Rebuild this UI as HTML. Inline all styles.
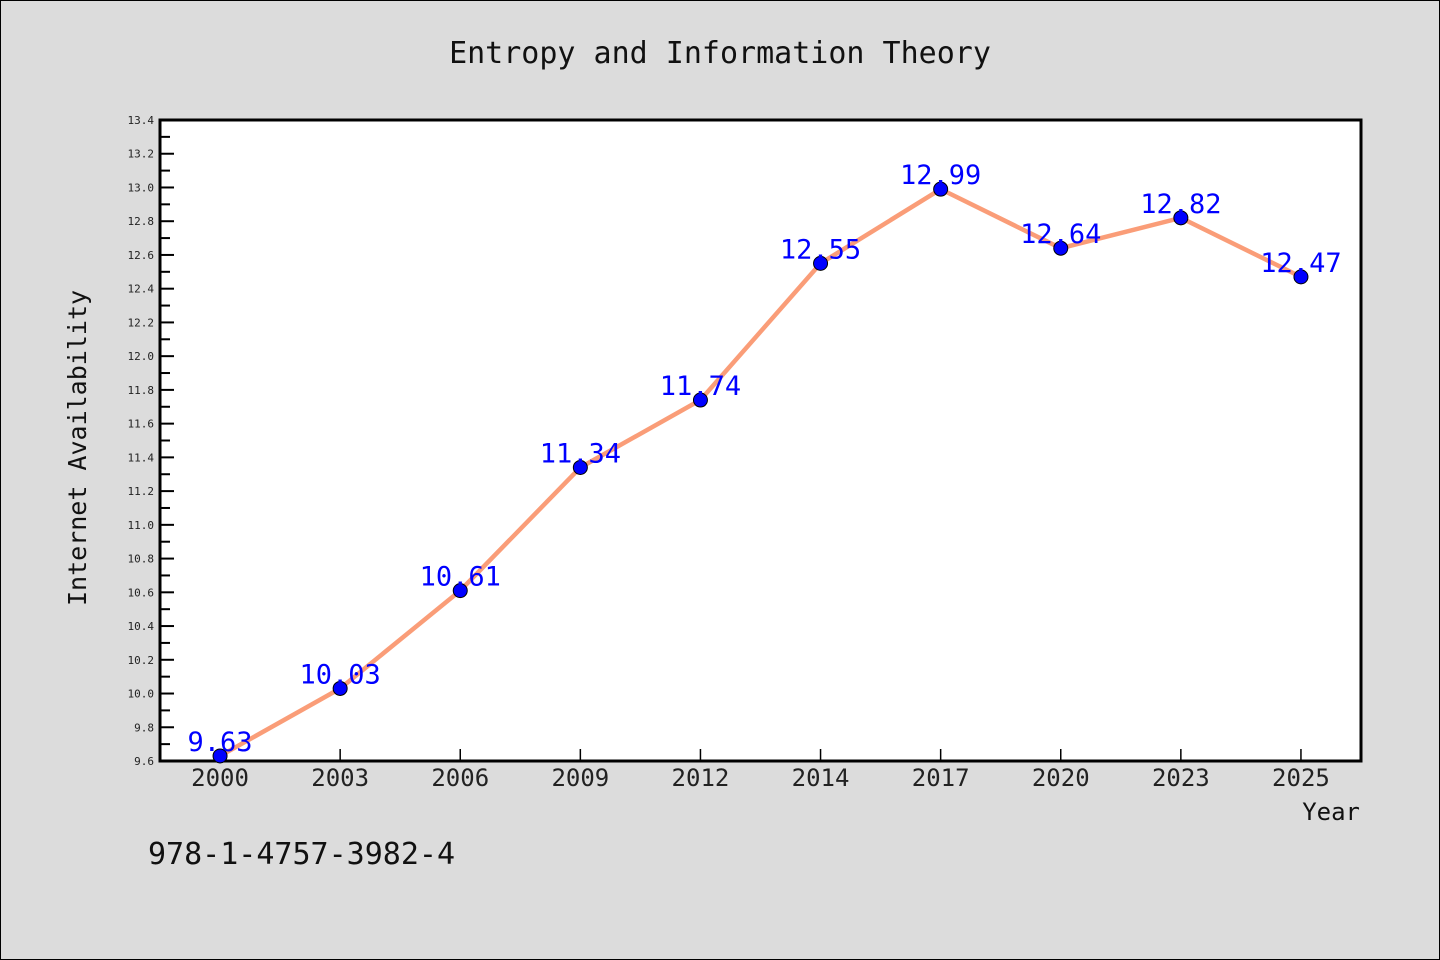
<!DOCTYPE html>
<html><head><meta charset="utf-8"><style>
body{margin:0;background:#dcdcdc;}
svg{display:block;font-family:"WenQuanYi Zen Hei","DejaVu Sans Mono",monospace;}
</style></head><body>
<svg id="c" width="1440" height="960">
<rect x="0.5" y="0.5" width="1439" height="959" fill="#dcdcdc" stroke="#000"/>
<text x="720" y="63" text-anchor="middle" font-size="30" fill="#111">Entropy and Information Theory</text>
<rect x="160" y="120" width="1201" height="641" fill="#fff" stroke="#000" stroke-width="3"/>
<g id="g"></g>
<text x="86" y="448" text-anchor="middle" font-size="25" fill="#111" transform="rotate(-90 86 448)">Internet Availability</text>
<text x="1360" y="820" text-anchor="end" font-size="24" fill="#111">Year</text>
<text x="148" y="864" font-size="30" fill="#111">978-1-4757-3982-4</text>
</svg>
<script>
const categories=["2000","2003","2006","2009","2012","2014","2017","2020","2023","2025"];
const values=[9.63,10.03,10.61,11.34,11.74,12.55,12.99,12.64,12.82,12.47];
const yTicks=[9.6,9.8,10.0,10.2,10.4,10.6,10.8,11.0,11.2,11.4,11.6,11.8,12.0,12.2,12.4,12.6,12.8,13.0,13.2,13.4];
const NS="http://www.w3.org/2000/svg";
const L=160,R=1361,T=120,B=761,ymin=9.6,ymax=13.4;
const step=(R-L)/categories.length;
const x=i=>L+step*(i+0.5);
const y=v=>B-(v-ymin)/(ymax-ymin)*(B-T);
const g=document.getElementById('g');
function mk(t,a){const e=document.createElementNS(NS,t);for(const k in a)e.setAttribute(k,a[k]);g.appendChild(e);return e;}
yTicks.forEach((v,i)=>{
 const t=mk('line',{x1:L,x2:L+14,y1:y(v),y2:y(v),stroke:'#000','stroke-width':2});
 
 
 if(i<yTicks.length-1){const m=mk('line',{x1:L,x2:L+10,y1:y(v+0.1),y2:y(v+0.1),stroke:'#000','stroke-width':2});
 
 }
 const l=mk('text',{x:L-6,y:y(v)+4,'text-anchor':'end','font-size':11,fill:'#222'});
 l.textContent=v.toFixed(1);
 
 
});
categories.forEach((c,i)=>{
 const t=mk('line',{x1:x(i),x2:x(i),y1:B,y2:B-12,stroke:'#000','stroke-width':1.5});
 
 
 const l=mk('text',{x:x(i),y:B+25,'text-anchor':'middle','font-size':24,fill:'#222'});
 l.textContent=c;
 
 
});
const p=mk('polyline',{points:values.map((v,i)=>x(i)+','+y(v)).join(' '),fill:'none',stroke:'#fa9d78','stroke-width':4.5});


values.forEach((v,i)=>{
 const c=mk('circle',{cx:x(i),cy:y(v),r:7,fill:'#0000ff',stroke:'#000','stroke-width':1});
 
 
 const l=mk('text',{x:x(i),y:y(v)-5,'text-anchor':'middle','font-size':27,fill:'#0000ff'});
 l.textContent=v.toFixed(2);
 
 
});
</script>
</body></html>
